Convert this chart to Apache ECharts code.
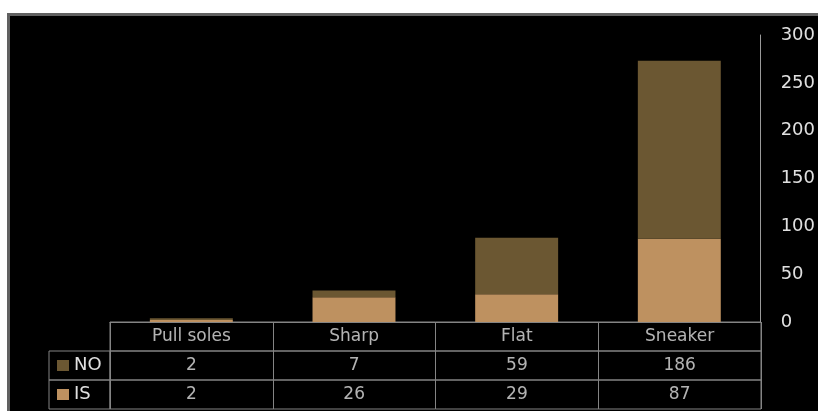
<!DOCTYPE html>
<html>
<head>
<meta charset="utf-8">
<script src="https://cdn.jsdelivr.net/npm/echarts@6/dist/echarts.min.js"></script>
<style>
  html, body { margin: 0; padding: 0; background: #ffffff; }
  #wrap { position: relative; width: 818px; height: 411px; overflow: hidden; }
  #panel { position: absolute; left: 7px; top: 13px; width: 820px; height: 410px;
           background: #000000; border-left: 3px solid #616161; border-top: 3px solid #616161;
           box-sizing: border-box; }
  #chart { position: absolute; left: 0; top: 0; width: 818px; height: 411px; }
</style>
</head>
<body>
<div id="wrap">
  <div id="panel"></div>
  <div id="chart"></div>
</div>
<script>
// Shoe types and the two answer groups
const categories = ['Pull soles', 'Sharp', 'Flat', 'Sneaker'];
const valuesNO = [2, 7, 59, 186];
const valuesIS = [2, 26, 29, 87];
const yTicks = { min: 0, max: 300, interval: 50 };

const colorNO = '#6b5732';
const colorIS = '#be9160';
const textColor = '#e0e0e0';
const lineColor = '#848484';
const fontFamily = '"DejaVu Sans", sans-serif';

const plotLeft = 110, plotWidth = 651;
const rowH = 29, tableTop = 322;

const chart = echarts.init(document.getElementById('chart'));

// One hidden x/y pair per table row, so each cell text is placed by the axes
function rowAxisX(gridIndex) {
  return {
    type: 'category', gridIndex, data: categories,
    axisLine: { show: false }, axisTick: { show: false }, axisLabel: { show: false },
    splitLine: { show: true, interval: 0, lineStyle: { color: lineColor, width: 1 } }
  };
}
function rowAxisY(gridIndex) {
  return { type: 'value', gridIndex, min: 0, max: 1, show: false, splitLine: { show: false } };
}
function rowSeries(gridIndex, values) {
  return {
    type: 'scatter', xAxisIndex: gridIndex, yAxisIndex: gridIndex,
    symbolSize: 0, silent: true,
    data: values.map((v, i) => [categories[i], 0.5, v]),
    label: {
      show: true, position: 'inside', color: textColor,
      fontFamily, fontSize: 17,
      formatter: p => String(p.value[2])
    }
  };
}
const cellBorder = { show: true, borderColor: lineColor, borderWidth: 1, backgroundColor: 'transparent' };
// Legend key inside each table row's first cell
function rowLegend(name, rowIndex) {
  return {
    data: [name],
    left: 57, top: tableTop + rowIndex * rowH + 4,
    icon: 'rect', itemWidth: 12, itemHeight: 11,
    padding: 0,
    selectedMode: false,
    textStyle: { color: textColor, fontSize: 18, lineHeight: 21, fontFamily }
  };
}

const option = {
  animation: false,
  textStyle: { fontFamily },
  legend: [rowLegend('NO', 1), rowLegend('IS', 2)],
  grid: [
    // bar area
    { left: plotLeft, top: 35, width: plotWidth, height: tableTop - 35, show: false },
    // table: header row, NO row, IS row
    Object.assign({ left: plotLeft, top: tableTop, width: plotWidth, height: rowH }, cellBorder),
    Object.assign({ left: plotLeft, top: tableTop + rowH, width: plotWidth, height: rowH }, cellBorder),
    Object.assign({ left: plotLeft, top: tableTop + 2 * rowH, width: plotWidth, height: rowH }, cellBorder),
    // legend key cells
    Object.assign({ left: 49, top: tableTop + rowH, width: plotLeft - 49, height: rowH }, cellBorder),
    Object.assign({ left: 49, top: tableTop + 2 * rowH, width: plotLeft - 49, height: rowH }, cellBorder)
  ],
  xAxis: [
    {
      type: 'category', gridIndex: 0, data: categories,
      axisLine: { show: true, lineStyle: { color: lineColor } },
      axisTick: { show: false }, axisLabel: { show: false }
    },
    rowAxisX(1), rowAxisX(2), rowAxisX(3),
    { type: 'category', gridIndex: 4, data: ['NO'], show: false },
    { type: 'category', gridIndex: 5, data: ['IS'], show: false }
  ],
  yAxis: [
    {
      type: 'value', gridIndex: 0, position: 'right',
      min: yTicks.min, max: yTicks.max, interval: yTicks.interval,
      axisLine: { show: true, lineStyle: { color: '#9a9a9a', width: 1 } },
      axisTick: { show: false },
      splitLine: { show: false },
      axisLabel: { color: textColor, fontSize: 18, margin: 20, fontFamily }
    },
    rowAxisY(1), rowAxisY(2), rowAxisY(3), rowAxisY(4), rowAxisY(5)
  ],
  series: [
    {
      name: 'IS', type: 'bar', stack: 'total', xAxisIndex: 0, yAxisIndex: 0,
      data: valuesIS, barWidth: '51%', itemStyle: { color: colorIS }
    },
    {
      name: 'NO', type: 'bar', stack: 'total', xAxisIndex: 0, yAxisIndex: 0,
      data: valuesNO, barWidth: '51%', itemStyle: { color: colorNO }
    },
    {
      type: 'scatter', xAxisIndex: 1, yAxisIndex: 1, symbolSize: 0, silent: true,
      data: categories.map(c => [c, 0.5]),
      label: {
        show: true, position: 'inside', color: textColor, fontFamily, fontSize: 17,
        formatter: p => p.value[0]
      }
    },
    rowSeries(2, valuesNO),
    rowSeries(3, valuesIS)
  ]
};

chart.setOption(option);
</script>
</body>
</html>
